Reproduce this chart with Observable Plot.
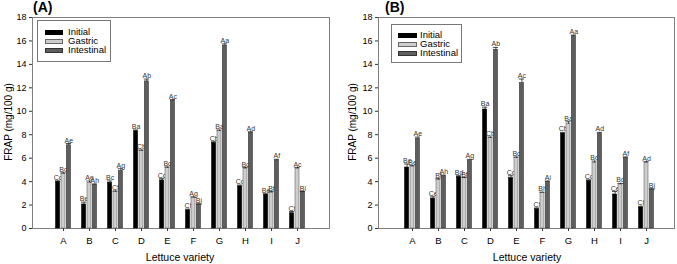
<!DOCTYPE html>
<html><head><meta charset="utf-8">
<script src="https://cdn.jsdelivr.net/npm/d3@7"></script>
<script src="https://cdn.jsdelivr.net/npm/@observablehq/plot@0.6"></script>
<style>
body{margin:0;background:#fff;}
#wrap{position:relative;width:677px;height:264px;overflow:hidden;font-family:"Liberation Sans",Arial,sans-serif;color:#000;}
.panel{position:absolute;top:0;}
.title{position:absolute;font-weight:bold;font-size:14px;line-height:14px;}
.ylab{position:absolute;font-size:10px;white-space:nowrap;transform:translate(-50%,-50%) rotate(-90deg);}
.xlab{position:absolute;font-size:10.5px;white-space:nowrap;transform:translate(-50%,-50%);}
.legend{position:absolute;border:1px solid #777;background:#fff;box-sizing:border-box;}
.lrow{position:absolute;font-size:9.5px;line-height:10px;white-space:nowrap;}
.sw{position:absolute;height:5px;box-sizing:border-box;border:0.5px solid #333;}
</style>
</head><body>
<div id="wrap"></div>
<script>
const categories = ["A","B","C","D","E","F","G","H","I","J"];
const seriesNames = ["Initial","Gastric","Intestinal"];
const yTicks = [0,2,4,6,8,10,12,14,16,18];

// Panel A values
const aInitial    = [4.0, 2.05, 3.9, 8.3, 4.1, 1.55, 7.3, 3.6, 2.9, 1.3];
const aGastric    = [4.65, 3.9, 3.1, 6.6, 5.15, 2.6, 8.3, 5.1, 3.05, 5.1];
const aIntestinal = [7.1, 3.7, 4.9, 12.55, 10.9, 2.05, 15.6, 8.15, 5.8, 3.1];
const aInitialErr    = [0.05, 0.2, 0.15, 0.1, 0.15, 0.1, 0.1, 0.1, 0.05, 0.15];
const aGastricErr    = [0.1, 0.15, 0.1, 0.1, 0.1, 0.1, 0.1, 0.1, 0.1, 0.1];
const aIntestinalErr = [0.15, 0.1, 0.2, 0.2, 0.1, 0.05, 0.15, 0.1, 0.1, 0.05];
const aInitialLab    = ["Cc","Be","Bc","Ba","Cc","Cf","Cb","Cd","Be","Cf"];
const aGastricLab    = ["Bd","Ae","Cf","Cb","Bc","Ag","Ba","Bc","Bf","Ac"];
const aIntestinalLab = ["Ae","Ah","Ag","Ab","Ac","Bj","Aa","Ad","Af","Bi"];

// Panel B values
const bInitial    = [5.2, 2.55, 4.4, 10.15, 4.3, 1.65, 8.1, 4.05, 2.9, 1.8];
const bGastric    = [5.3, 4.15, 4.3, 7.7, 6.0, 3.05, 8.9, 5.6, 3.75, 5.6];
const bIntestinal = [7.65, 4.45, 5.75, 15.25, 12.4, 3.95, 16.4, 8.05, 6.0, 3.3];
const bInitialErr    = [0.3, 0.15, 0.1, 0.2, 0.2, 0.1, 0.1, 0.1, 0.25, 0.1];
const bGastricErr    = [0.05, 0.1, 0.05, 0.1, 0.1, 0.05, 0.2, 0.15, 0.1, 0.1];
const bIntestinalErr = [0.15, 0.1, 0.15, 0.2, 0.35, 0.1, 0.1, 0.15, 0.1, 0.1];
const bInitialLab    = ["Bc","Ce","Bd","Ba","Cd","Cf","Cb","Cd","Ce","Cf"];
const bGastricLab    = ["Be","Bf","Bf","Cb","Bc","Bh","Ba","Bd","Bg","Ad"];
const bIntestinalLab = ["Ae","Ah","Ag","Ab","Ac","Ai","Aa","Ad","Af","Bj"];

const seriesFill   = ["#000000","#cdcdcd","#5e5e5e"];
const seriesStroke = ["#000000","#666666","#333333"];
const seriesDx     = [-5.4, 0, 5.4];

const font = '"Liberation Sans", Arial, sans-serif';
const wrap = document.getElementById("wrap");

function makeRows(vals, errs, labs) {
  return categories.map((c, i) => ({cat: c, v: vals[i], e: errs[i], lab: labs[i]}));
}

function makePanel(cfg) {
  const series = [
    makeRows(cfg.initial, cfg.initialErr, cfg.initialLab),
    makeRows(cfg.gastric, cfg.gastricErr, cfg.gastricLab),
    makeRows(cfg.intestinal, cfg.intestinalErr, cfg.intestinalLab)
  ];
  const marks = [
    Plot.frame({stroke: "#808080"}),
    Plot.axisY({ticks: yTicks, tickSize: 3, tickPadding: 3, label: null, fontSize: 9, stroke: "#333"}),
    Plot.axisX({tickSize: 3, tickPadding: 6, label: null, fontSize: 9.5, stroke: "#333"})
  ];
  series.forEach((rows, s) => {
    marks.push(Plot.barY(rows, {x: "cat", y: "v", dx: seriesDx[s], fill: seriesFill[s], stroke: seriesStroke[s], strokeWidth: 0.6}));
    marks.push(Plot.ruleX(rows, {x: "cat", y1: "v", y2: d => d.v + d.e, dx: seriesDx[s], stroke: "#222", strokeWidth: 0.8}));
    marks.push(Plot.tickY(rows, {x: "cat", y: d => d.v + d.e, dx: seriesDx[s], stroke: "#222", strokeWidth: 0.8, insetLeft: -0.6, insetRight: -0.6}));
    marks.push(Plot.text(rows, {x: "cat", y: d => d.v + d.e, text: "lab", dx: seriesDx[s], dy: -1, lineAnchor: "bottom", fontSize: 7, fill: "#333"}));
  });
  const svg = Plot.plot({
    width: cfg.width, height: 264,
    marginLeft: cfg.marginLeft, marginRight: cfg.marginRight, marginTop: 17, marginBottom: 36,
    style: {fontFamily: font, background: "transparent", color: "#000"},
    x: {domain: categories, paddingInner: 0.835, paddingOuter: cfg.po, align: cfg.align},
    y: {domain: [0, 18]},
    marks
  });
  const holder = document.createElement("div");
  holder.className = "panel";
  holder.style.left = cfg.left + "px";
  holder.appendChild(svg);
  wrap.appendChild(holder);

  const t = document.createElement("div");
  t.className = "title"; t.textContent = cfg.title;
  t.style.left = cfg.titleX + "px"; t.style.top = "0px";
  wrap.appendChild(t);

  const yl = document.createElement("div");
  yl.className = "ylab"; yl.textContent = "FRAP (mg/100 g)";
  yl.style.left = cfg.yLabX + "px"; yl.style.top = "122px";
  wrap.appendChild(yl);

  const xl = document.createElement("div");
  xl.className = "xlab"; xl.textContent = "Lettuce variety";
  xl.style.left = cfg.xLabX + "px"; xl.style.top = "257px";
  wrap.appendChild(xl);

  const lg = document.createElement("div");
  lg.className = "legend";
  lg.style.left = cfg.lg.x + "px"; lg.style.top = cfg.lg.y + "px";
  lg.style.width = cfg.lg.w + "px"; lg.style.height = cfg.lg.h + "px";
  seriesNames.forEach((name, s) => {
    const sw = document.createElement("div");
    sw.className = "sw";
    sw.style.left = cfg.lg.swX + "px"; sw.style.width = cfg.lg.swW + "px";
    sw.style.top = (cfg.lg.row0 + s * cfg.lg.rowH - 2.5) + "px";
    sw.style.background = seriesFill[s];
    sw.style.borderColor = seriesStroke[s];
    lg.appendChild(sw);
    const tx = document.createElement("div");
    tx.className = "lrow"; tx.textContent = name;
    tx.style.left = cfg.lg.txX + "px";
    tx.style.top = (cfg.lg.row0 + s * cfg.lg.rowH - 5.5) + "px";
    lg.appendChild(tx);
  });
  wrap.appendChild(lg);
}

makePanel({
  left: 0, width: 338, marginLeft: 32, marginRight: 9, po: 0.96, align: 0.5,
  initial: aInitial, gastric: aGastric, intestinal: aIntestinal,
  initialErr: aInitialErr, gastricErr: aGastricErr, intestinalErr: aIntestinalErr,
  initialLab: aInitialLab, gastricLab: aGastricLab, intestinalLab: aIntestinalLab,
  title: "(A)", titleX: 33, yLabX: 8, xLabX: 180,
  lg: {x: 37, y: 20, w: 74, h: 42, swX: 7, swW: 18, txX: 30, row0: 11, rowH: 9}
});
makePanel({
  left: 337, width: 340, marginLeft: 41, marginRight: 3, po: 0.95, align: 0.55,
  initial: bInitial, gastric: bGastric, intestinal: bIntestinal,
  initialErr: bInitialErr, gastricErr: bGastricErr, intestinalErr: bIntestinalErr,
  initialLab: bInitialLab, gastricLab: bGastricLab, intestinalLab: bIntestinalLab,
  title: "(B)", titleX: 385, yLabX: 352, xLabX: 527,
  lg: {x: 391, y: 24, w: 71, h: 39, swX: 6, swW: 19, txX: 28, row0: 10, rowH: 9}
});
</script>
</body></html>
